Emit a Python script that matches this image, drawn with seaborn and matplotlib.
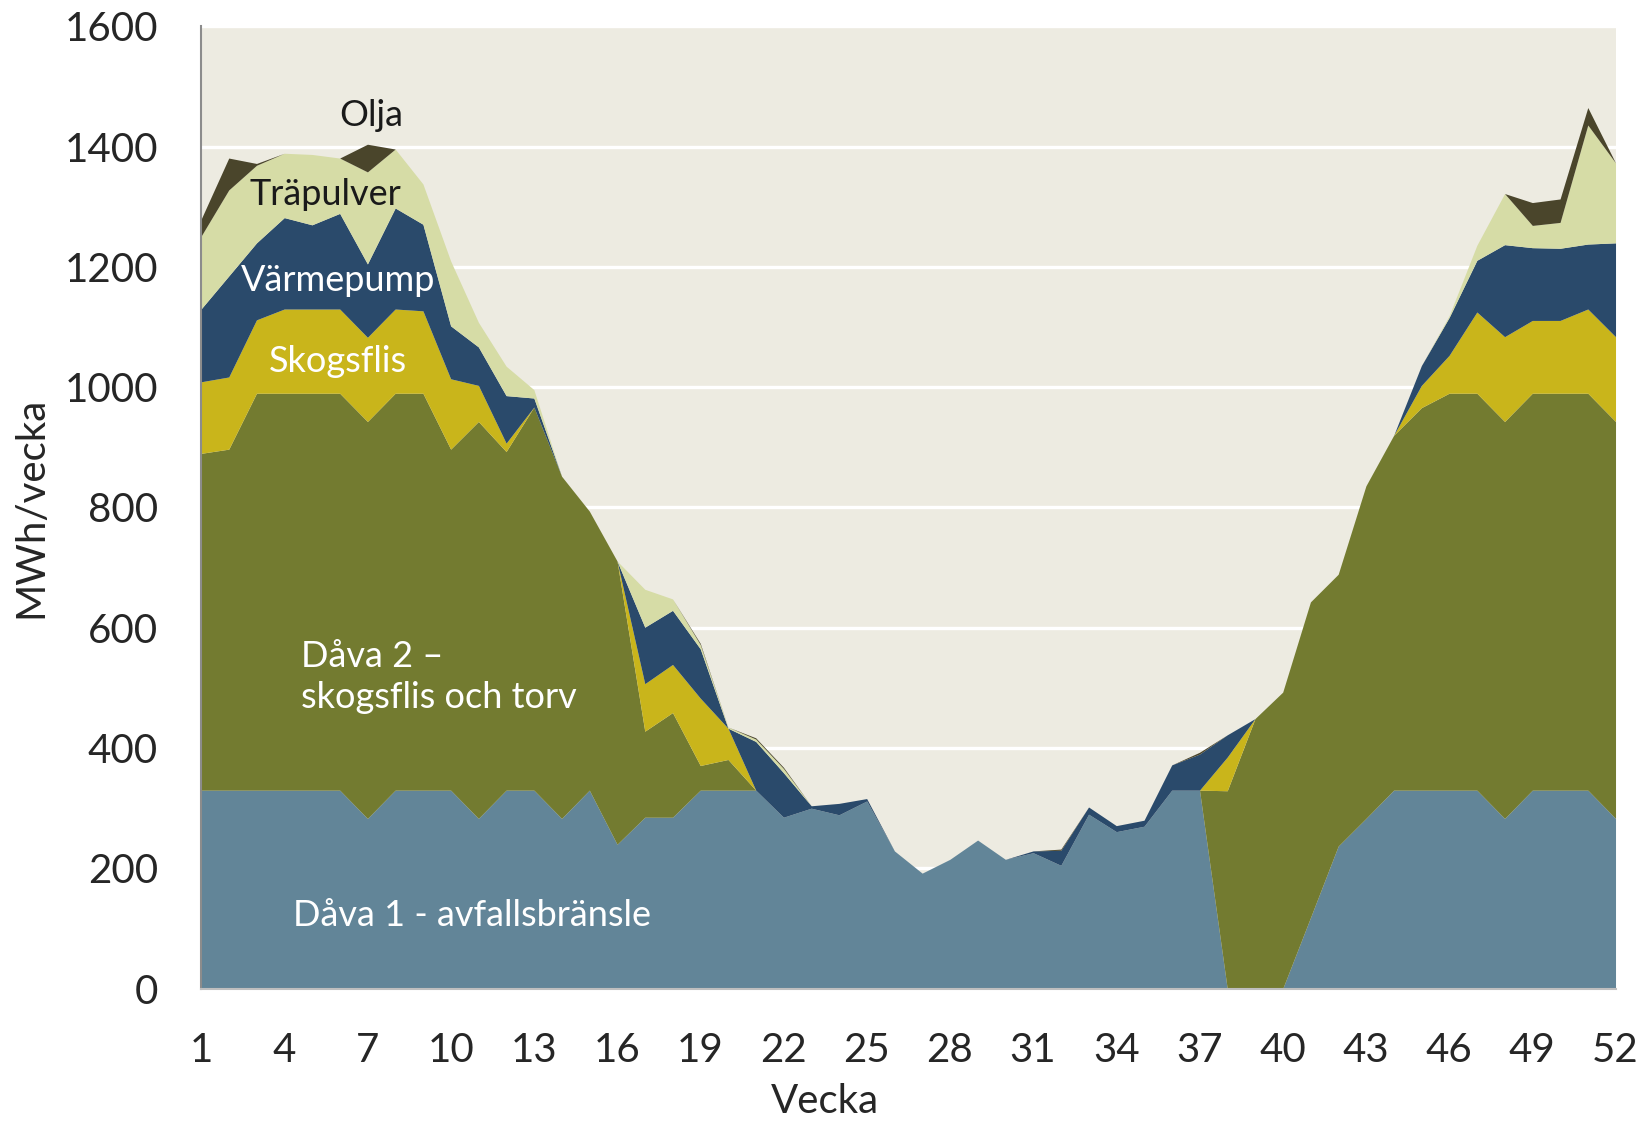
import numpy as np
import pandas as pd
import seaborn as sns
import matplotlib.pyplot as plt

# data (MWh per week)
weeks = list(range(1, 53))

dava1 = [330, 330, 330, 330, 330, 330, 283, 330, 330, 330, 283, 330, 330,
         283, 330, 240, 285, 285, 330, 330, 330, 285, 300, 289, 312, 229,
         192, 215, 247, 215, 226, 205, 290, 261, 270, 330, 330, 0, 0, 0,
         118, 237, 283, 330, 330, 330, 330, 283, 330, 330, 330, 283]

dava2 = [560, 567, 660, 660, 660, 660, 660, 660, 660, 567, 660, 563, 637,
         569, 464, 471, 143, 174, 41, 51, 0, 0, 0, 0, 0, 0,
         0, 0, 0, 0, 0, 0, 0, 0, 0, 0, 0, 329, 449, 493,
         525, 452, 553, 590, 636, 660, 660, 660, 660, 660, 660, 660]

skogsflis = [119, 120, 122, 140, 140, 140, 140, 140, 137, 117, 60, 14, 0,
             0, 0, 0, 79, 80, 112, 52, 0, 0, 0, 0, 0, 0,
             0, 0, 0, 0, 0, 0, 0, 0, 0, 0, 0, 56, 0, 0,
             0, 0, 0, 0, 37, 63, 135, 141, 121, 121, 140, 141]

varmepump = [121, 168, 128, 152, 140, 159, 122, 168, 144, 88, 64, 79, 15,
             0, 0, 0, 94, 90, 82, 0, 81, 74, 4, 19, 4, 0,
             0, 0, 0, 0, 3, 25, 12, 10, 10, 42, 60, 37, 0, 0,
             0, 0, 0, 0, 33, 63, 86, 153, 121, 120, 108, 156]

trapulver = [121, 143, 129, 107, 117, 92, 153, 98, 67, 108, 41, 49, 14,
             0, 0, 0, 63, 19, 7, 2, 4, 7, 0, 0, 0, 0,
             0, 0, 0, 0, 0, 0, 0, 0, 0, 0, 0, 0, 0, 0,
             0, 0, 0, 0, 0, 3, 25, 85, 37, 43, 198, 133]

olja = [28, 53, 3, 0, 0, 0, 46, 0, 0, 0, 0, 0, 0,
        0, 0, 0, 0, 0, 2, 0, 2, 2, 0, 0, 0, 0,
        0, 0, 0, 0, 0, 2, 0, 0, 0, 0, 3, 0, 0, 0,
        0, 0, 0, 0, 0, 0, 0, 0, 38, 39, 29, 0]

df = pd.DataFrame({'Vecka': weeks, 'Dåva 1': dava1, 'Dåva 2': dava2,
                   'Skogsflis': skogsflis, 'Värmepump': varmepump,
                   'Träpulver': trapulver, 'Olja': olja})

colors = ['#628598', '#737B30', '#C9B51B', '#2A4A6B', '#D6DCA6', '#4A452B']

sns.set_theme(style='white')
plt.rcParams['font.family'] = ['Lato', 'DejaVu Sans']

fig = plt.figure(figsize=(16.49, 11.21), dpi=100)
ax = fig.add_axes([0.1219, 0.1181, 0.8578, 0.8584])
ax.set_facecolor('#EDEBE1')

ax.stackplot(df['Vecka'], df['Dåva 1'], df['Dåva 2'], df['Skogsflis'],
             df['Värmepump'], df['Träpulver'], df['Olja'],
             colors=colors, linewidth=0, zorder=2)

ax.set_xlim(1, 52)
ax.set_ylim(0, 1600)
ax.set_xticks(range(1, 53, 3))
ax.set_yticks(range(0, 1601, 200))
ax.yaxis.grid(True, color='white', linewidth=2.4, zorder=1)
ax.set_axisbelow(True)
ax.tick_params(axis='both', length=0, labelsize=29, labelcolor='#262626')
ax.tick_params(axis='x', pad=31)
ax.tick_params(axis='y', pad=31)

for side in ['top', 'right']:
    ax.spines[side].set_visible(False)
ax.spines['left'].set_color('#8C8C8C')
ax.spines['left'].set_linewidth(1.5)
ax.spines['bottom'].set_color('#BFBFBF')
ax.spines['bottom'].set_linewidth(1.5)

# axis titles: "Vecka" sits centred on the whole figure
xl = ax.set_xlabel('Vecka', fontsize=29, color='#262626')
xl.set_va('center')
ax.xaxis.set_label_coords(0.4408, -0.1178)
ax.set_ylabel('MWh/vecka', fontsize=29, color='#262626')
ax.yaxis.set_label_coords(-0.107, 0.5)

# labels inside the areas
ax.text(7.14, 1452, 'Olja', fontsize=26, color='#1A1A1A', ha='center', va='center', zorder=3)
ax.text(5.47, 1321, 'Träpulver', fontsize=26, color='#1A1A1A', ha='center', va='center', zorder=3)
ax.text(5.93, 1178, 'Värmepump', fontsize=26, color='white', ha='center', va='center', zorder=3)
ax.text(5.93, 1042, 'Skogsflis', fontsize=26, color='white', ha='center', va='center', zorder=3)
ax.text(4.6, 518, 'Dåva 2 –\nskogsflis och torv', fontsize=26, color='white',
        ha='left', va='center', linespacing=1.3, zorder=3)
ax.text(10.78, 122, 'Dåva 1 - avfallsbränsle', fontsize=26, color='white',
        ha='center', va='center', zorder=3)

fig.savefig('out.png', dpi=100)
